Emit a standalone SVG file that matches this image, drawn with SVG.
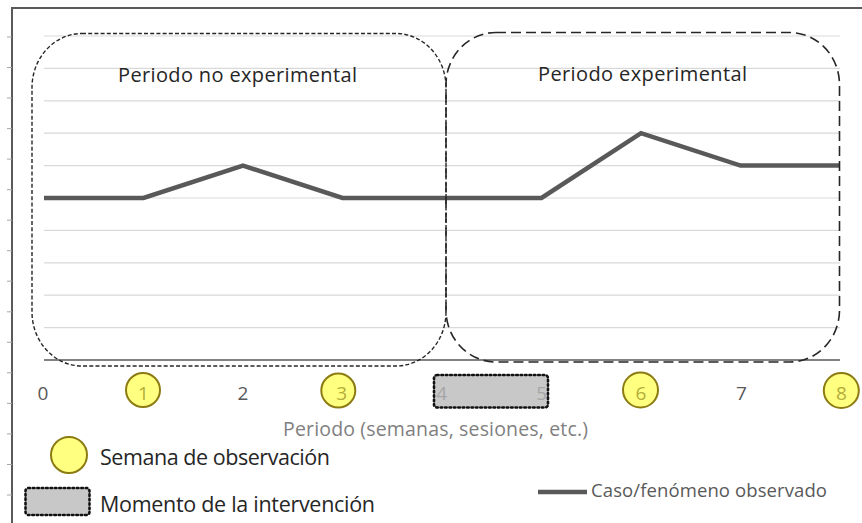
<svg xmlns="http://www.w3.org/2000/svg" width="862" height="523" viewBox="0 0 862 523">
<style>
  .grid { stroke: #d9d9d9; stroke-width: 1.2; }
  .tick { stroke: #a6a6a6; stroke-width: 1; }
  .frame { stroke: #5a5a5a; stroke-width: 2; fill: none; }
  .axis { stroke: #595959; stroke-width: 1.6; }
  .series { fill: none; stroke: #595959; stroke-width: 4.5; stroke-linejoin: miter; }
  .pne { fill: none; stroke: #262626; stroke-width: 1.4; stroke-dasharray: 4 2.2; }
  .pe { fill: none; stroke: #262626; stroke-width: 1.6; stroke-dasharray: 10 5; }
  .t { font-family: "Open Sans", "Liberation Sans", sans-serif; }
  .title { font-size: 20px; fill: #262626; text-anchor: middle; }
  .num { font-size: 19px; fill: #595959; text-anchor: middle; }
  .numc { font-size: 19px; fill: #b3ad3a; text-anchor: middle; }
  .numr { font-size: 19px; fill: #a6a6a6; text-anchor: middle; }
  .axt { font-size: 19.5px; fill: #7f7f7f; }
  .leg { font-size: 21.5px; fill: #262626; }
  .legs { font-size: 18.5px; fill: #595959; }
  .obs { fill: #ffff80; stroke: #8c7b12; stroke-width: 2; }
  .int { fill: #c8c8c8; stroke: #111; stroke-width: 2.6; stroke-dasharray: 1.6 2.8; stroke-linecap: round; }
</style>

<g id="frame">
  <path class="frame" d="M12 523 V8 H862"/>
  <g id="ticks">
    <line class="tick" x1="7" y1="37" x2="12" y2="37"/>
    <line class="tick" x1="7" y1="67.5" x2="12" y2="67.5"/>
    <line class="tick" x1="7" y1="98" x2="12" y2="98"/>
    <line class="tick" x1="7" y1="128.6" x2="12" y2="128.6"/>
    <line class="tick" x1="7" y1="159.1" x2="12" y2="159.1"/>
    <line class="tick" x1="7" y1="189.7" x2="12" y2="189.7"/>
    <line class="tick" x1="7" y1="220.2" x2="12" y2="220.2"/>
    <line class="tick" x1="7" y1="250.7" x2="12" y2="250.7"/>
    <line class="tick" x1="7" y1="281.2" x2="12" y2="281.2"/>
    <line class="tick" x1="7" y1="311.8" x2="12" y2="311.8"/>
    <line class="tick" x1="7" y1="342.3" x2="12" y2="342.3"/>
    <line class="tick" x1="7" y1="372.8" x2="12" y2="372.8"/>
    <line class="tick" x1="7" y1="403.4" x2="12" y2="403.4"/>
    <line class="tick" x1="7" y1="433.9" x2="12" y2="433.9"/>
    <line class="tick" x1="7" y1="464.5" x2="12" y2="464.5"/>
    <line class="tick" x1="7" y1="495" x2="12" y2="495"/>
  </g>
</g>

<g id="gridlines">
  <line class="grid" x1="44" y1="36" x2="840" y2="36"/>
  <line class="grid" x1="44" y1="68.4" x2="840" y2="68.4"/>
  <line class="grid" x1="44" y1="100.8" x2="840" y2="100.8"/>
  <line class="grid" x1="44" y1="133.2" x2="840" y2="133.2"/>
  <line class="grid" x1="44" y1="165.6" x2="840" y2="165.6"/>
  <line class="grid" x1="44" y1="198" x2="840" y2="198"/>
  <line class="grid" x1="44" y1="230.4" x2="840" y2="230.4"/>
  <line class="grid" x1="44" y1="262.8" x2="840" y2="262.8"/>
  <line class="grid" x1="44" y1="295.2" x2="840" y2="295.2"/>
  <line class="grid" x1="44" y1="327.6" x2="840" y2="327.6"/>
</g>

<g id="x-axis">
  <line class="axis" x1="44" y1="360" x2="840" y2="360"/>
</g>

<g id="connectors">
  <polyline id="series" class="series" points="44,198 143.5,198 243,165.6 342.5,198 442,198 541.5,198 641,133.2 740.5,165.6 840,165.6"/>
</g>

<g id="periodo-no-experimental">
  <rect class="pne" x="32" y="33.5" width="414" height="332.5" rx="50" ry="54"/>
  <text class="t title" x="237.5" y="82" textLength="239">Periodo no experimental</text>
</g>

<g id="periodo-experimental">
  <rect class="pe" x="446" y="32.5" width="393.5" height="329.5" rx="50" ry="52"/>
  <text class="t title" x="642.5" y="81" textLength="209">Periodo experimental</text>
</g>

<g id="axis-labels">
  <text class="t num" x="43" y="400">0</text>
  <g id="obs-1">
    <circle class="obs" cx="143" cy="390" r="17"/>
    <text class="t numc" x="143.5" y="400">1</text>
  </g>
  <text class="t num" x="243" y="400">2</text>
  <g id="obs-3">
    <circle class="obs" cx="338.3" cy="390.5" r="17"/>
    <text class="t numc" x="341.7" y="400">3</text>
  </g>
  <g id="intervencion">
    <rect class="int" x="434" y="375" width="114" height="32.5" rx="3"/>
    <text class="t numr" x="441.7" y="400">4</text>
    <text class="t numr" x="541.7" y="400">5</text>
  </g>
  <g id="obs-6">
    <circle class="obs" cx="640.5" cy="390" r="17.5"/>
    <text class="t numc" x="641" y="400">6</text>
  </g>
  <text class="t num" x="741.5" y="400">7</text>
  <g id="obs-8">
    <circle class="obs" cx="841.3" cy="390.5" r="17.5"/>
    <text class="t numc" x="841.5" y="400">8</text>
  </g>
  <text class="t axt" x="283" y="436" textLength="305">Periodo (semanas, sesiones, etc.)</text>
</g>

<g id="legend-observacion">
  <circle class="obs" cx="69" cy="455" r="18"/>
  <text class="t leg" x="100" y="465" textLength="230">Semana de observación</text>
</g>

<g id="legend-intervencion">
  <rect class="int" x="25.5" y="488" width="64" height="27" rx="3"/>
  <text class="t leg" x="100" y="512" textLength="275">Momento de la intervención</text>
</g>

<g id="legend-caso">
  <line x1="538" y1="492" x2="587" y2="492" stroke="#595959" stroke-width="4.5"/>
  <text class="t legs" x="591" y="497" textLength="236">Caso/fenómeno observado</text>
</g>
</svg>
